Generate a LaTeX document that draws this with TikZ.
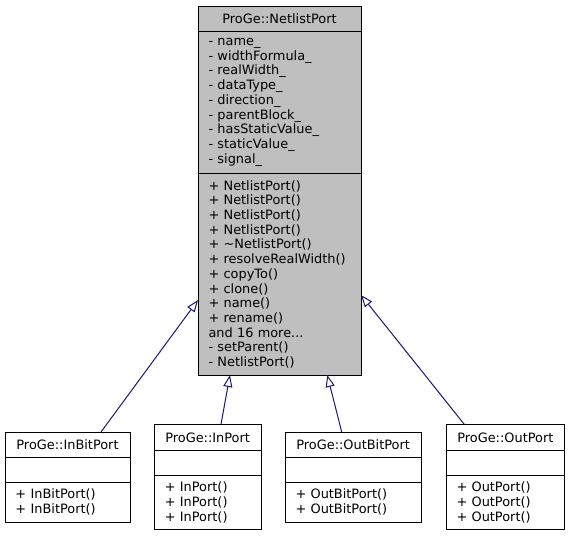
\documentclass[tikz,border=0pt]{standalone}
\usepackage{fontspec}
\newfontfamily\classfont{DejaVu Sans}
\usetikzlibrary{positioning,calc,arrows.meta}
\definecolor{edgeblue}{RGB}{25,25,112}
\definecolor{basegray}{RGB}{191,191,191}
\begin{document}
\begin{tikzpicture}[x=1pt,y=-1pt,
  part/.style={draw, line width=1pt, outer sep=0pt, inner xsep=10.5pt, inner ysep=0pt, fill=white,
    font=\classfont\fontsize{12.9}{14.7}\selectfont, align=left},
  head/.style={part, align=center, minimum height=25pt},
  inherit/.style={draw=edgeblue, line width=1pt, -{Triangle[open,length=12pt,width=9pt]}}]
\useasboundingbox (0,0) rectangle (570,536);

\node[head, fill=basegray, text width=142pt, anchor=north west] (base) at (198,6) {ProGe::NetlistPort};
\node[part, fill=basegray, text width=142pt, minimum height=142.5pt, below=0pt of base] (base-attr)
  {- name\_\\- widthFormula\_\\- realWidth\_\\- dataType\_\\- direction\_\\- parentBlock\_\\- hasStaticValue\_\\- staticValue\_\\- signal\_};
\node[part, fill=basegray, text width=142pt, minimum height=201.5pt, below=0pt of base-attr] (base-ops)
  {+ NetlistPort()\\+ NetlistPort()\\+ NetlistPort()\\+ NetlistPort()\\+ \textasciitilde NetlistPort()\\+ resolveRealWidth()\\+ copyTo()\\+ clone()\\+ name()\\+ rename()\\and 16 more...\\- setParent()\\- NetlistPort()};

\node[head, text width=104pt, anchor=north west] (inbit) at (5,432) {ProGe::InBitPort};
\node[part, text width=104pt, minimum height=25pt, below=0pt of inbit] (inbit-attr) {};
\node[part, text width=104pt, minimum height=40pt, below=0pt of inbit-attr] (inbit-ops) {+ InBitPort()\\+ InBitPort()};

\node[head, text width=85.7pt, minimum height=26pt, anchor=north west] (in) at (154.3,424.3) {ProGe::InPort};
\node[part, text width=85.7pt, minimum height=25pt, below=0pt of in] (in-attr) {};
\node[part, text width=85.7pt, minimum height=54pt, below=0pt of in-attr] (in-ops) {+ InPort()\\+ InPort()\\+ InPort()};

\node[head, text width=115.3pt, anchor=north west] (outbit) at (285,432) {ProGe::OutBitPort};
\node[part, text width=115.3pt, minimum height=25pt, below=0pt of outbit] (outbit-attr) {};
\node[part, text width=115.3pt, minimum height=40pt, below=0pt of outbit-attr] (outbit-ops) {+ OutBitPort()\\+ OutBitPort()};

\node[head, text width=97.7pt, minimum height=26pt, anchor=north west] (out) at (446,424.3) {ProGe::OutPort};
\node[part, text width=97.7pt, minimum height=25pt, below=0pt of out] (out-attr) {};
\node[part, text width=97.7pt, minimum height=54pt, below=0pt of out-attr] (out-ops) {+ OutPort()\\+ OutPort()\\+ OutPort()};

\draw[inherit] ($(inbit.north west)!0.768!(inbit.north east)$) -- ($(base-ops.south west)!0.372!(base-ops.north west)$);
\draw[inherit] ($(in.north west)!0.625!(in.north east)$) -- ($(base-ops.south west)!0.196!(base-ops.south east)$);
\draw[inherit] ($(outbit.north west)!0.416!(outbit.north east)$) -- ($(base-ops.south west)!0.793!(base-ops.south east)$);
\draw[inherit] ($(out.north west)!0.154!(out.north east)$) -- ($(base-ops.south east)!0.397!(base-ops.north east)$);
\end{tikzpicture}
\end{document}
